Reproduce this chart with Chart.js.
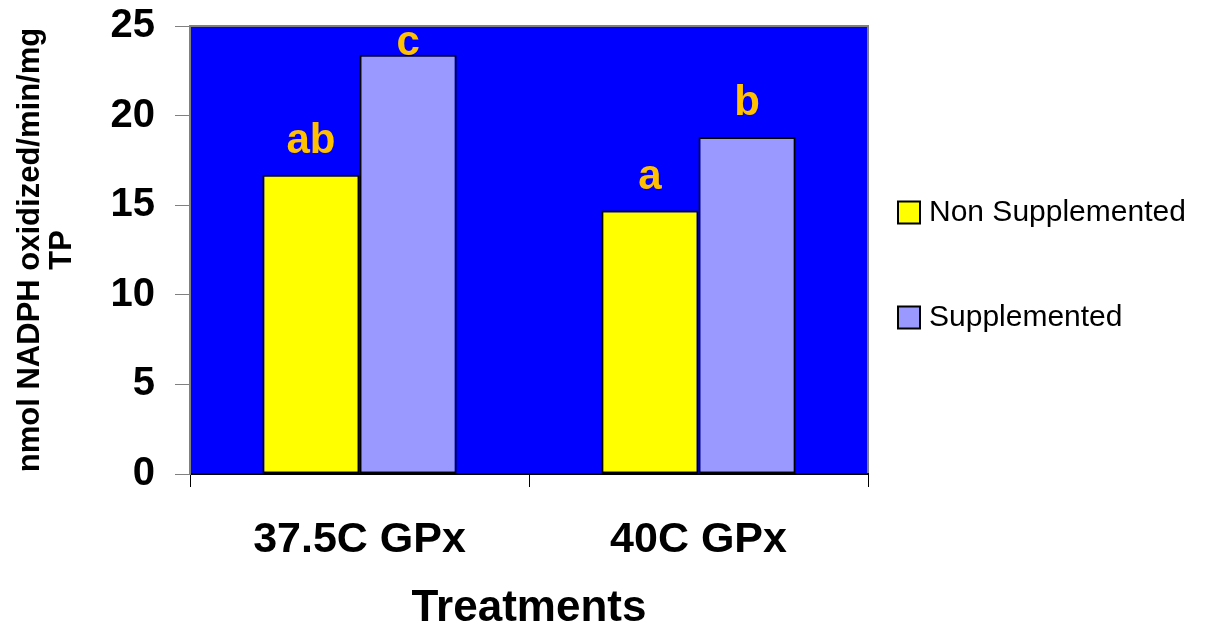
<!DOCTYPE html>
<html>
<head>
<meta charset="utf-8">
<script src="https://cdn.jsdelivr.net/npm/chart.js@4"></script>
<style>
  html, body { margin: 0; padding: 0; background: #fff; }
  #wrap { width: 1222px; height: 635px; position: relative; }
</style>
</head>
<body>
<div id="wrap"><canvas id="gpxChart"></canvas></div>
<script>
const categories = ['37.5C GPx', '40C GPx'];
const nonSupplemented = [16.7, 14.7];
const supplemented = [23.4, 18.8];
const nonSuppLetters = ['ab', 'a'];
const suppLetters = ['c', 'b'];
const yTicks = [0, 5, 10, 15, 20, 25];

const FONT = '"Liberation Sans", Arial, sans-serif';

// blue plot area + grey frame
const plotBg = {
    id: 'plotBg',
    beforeDraw(chart) {
        const { ctx, chartArea: a } = chart;
        ctx.save();
        ctx.fillStyle = '#0000FF';
        ctx.fillRect(a.left, a.top, a.right - a.left, a.bottom - a.top);
        ctx.strokeStyle = '#808080';
        ctx.lineWidth = 2;
        ctx.strokeRect(a.left, a.top, a.right - a.left, a.bottom - a.top);
        ctx.restore();
    }
};

// significance letters over bars
const barLetters = {
    id: 'barLetters',
    afterDatasetsDraw(chart) {
        const { ctx, chartArea: a } = chart;
        const sets = [nonSuppLetters, suppLetters];
        ctx.save();
        ctx.font = `bold 42px ${FONT}`;
        ctx.fillStyle = '#FFC000';
        ctx.textAlign = 'center';
        ctx.textBaseline = 'alphabetic';
        sets.forEach((letters, di) => {
            chart.getDatasetMeta(di).data.forEach((bar, i) => {
                const y = Math.max(bar.y - 22, a.top + 29);
                ctx.fillText(letters[i], bar.x, y);
            });
        });
        ctx.restore();
    }
};

// legend on the right, widely spaced like the original
const sideLegend = {
    id: 'sideLegend',
    afterDraw(chart) {
        const { ctx, chartArea: a } = chart;
        const mid = (a.top + a.bottom) / 2 + 15;
        ctx.save();
        ctx.font = `30px ${FONT}`;
        ctx.textBaseline = 'middle';
        chart.data.datasets.forEach((ds, i) => {
            const cy = mid + (i - 0.5) * 105;
            const bx = a.right + 30;
            ctx.fillStyle = ds.backgroundColor;
            ctx.fillRect(bx, cy - 11, 22, 22);
            ctx.strokeStyle = '#000';
            ctx.lineWidth = 2;
            ctx.strokeRect(bx, cy - 11, 22, 22);
            ctx.fillStyle = '#000';
            ctx.fillText(ds.label, bx + 31, cy);
        });
        ctx.restore();
    }
};

// eslint-disable-next-line no-undef
new Chart(document.getElementById('gpxChart'), {
    type: 'bar',
    data: {
        labels: categories,
        datasets: [
            {
                label: 'Non Supplemented',
                data: nonSupplemented,
                backgroundColor: '#FFFF00',
                borderColor: '#000000',
                borderWidth: 2,
                borderSkipped: false
            },
            {
                label: 'Supplemented',
                data: supplemented,
                backgroundColor: '#9999FF',
                borderColor: '#000000',
                borderWidth: 2,
                borderSkipped: false
            }
        ]
    },
    options: {
        responsive: true,
        maintainAspectRatio: false,
        animation: false,
        layout: { padding: { top: 26, right: 354, left: 0, bottom: 0 } },
        datasets: { bar: { categoryPercentage: 0.573, barPercentage: 1.0 } },
        scales: {
            x: {
                grid: { drawOnChartArea: false, tickLength: 13, color: '#000', offset: true },
                border: { color: '#000', width: 2 },
                ticks: { color: '#000', padding: 27, font: { family: FONT, size: 43, weight: 'bold' } },
                title: {
                    display: true,
                    text: 'Treatments',
                    color: '#000',
                    padding: { top: 0, bottom: 0 },
                    font: { family: FONT, size: 44, weight: 'bold' }
                },
                afterFit(scale) { scale.height = 161; }
            },
            y: {
                min: 0,
                max: 25,
                afterBuildTicks(scale) { scale.ticks = yTicks.map(v => ({ value: v })); },
                grid: { drawOnChartArea: false, tickLength: 15, color: '#808080' },
                border: { color: '#808080', width: 2 },
                ticks: { color: '#000', padding: 20, font: { family: FONT, size: 40, weight: 'bold' } },
                title: {
                    display: true,
                    text: ['nmol NADPH oxidized/min/mg', 'TP'],
                    color: '#000',
                    padding: { top: 14, bottom: 0 },
                    font: { family: FONT, size: 31, weight: 'bold', lineHeight: '32px' }
                },
                afterFit(scale) {
                    scale.width = 190;
                    scale.paddingTop = 0;
                    scale.paddingBottom = 0;
                }
            }
        },
        plugins: {
            legend: { display: false },
            tooltip: { enabled: false }
        }
    },
    plugins: [plotBg, barLetters, sideLegend]
});
</script>
</body>
</html>
